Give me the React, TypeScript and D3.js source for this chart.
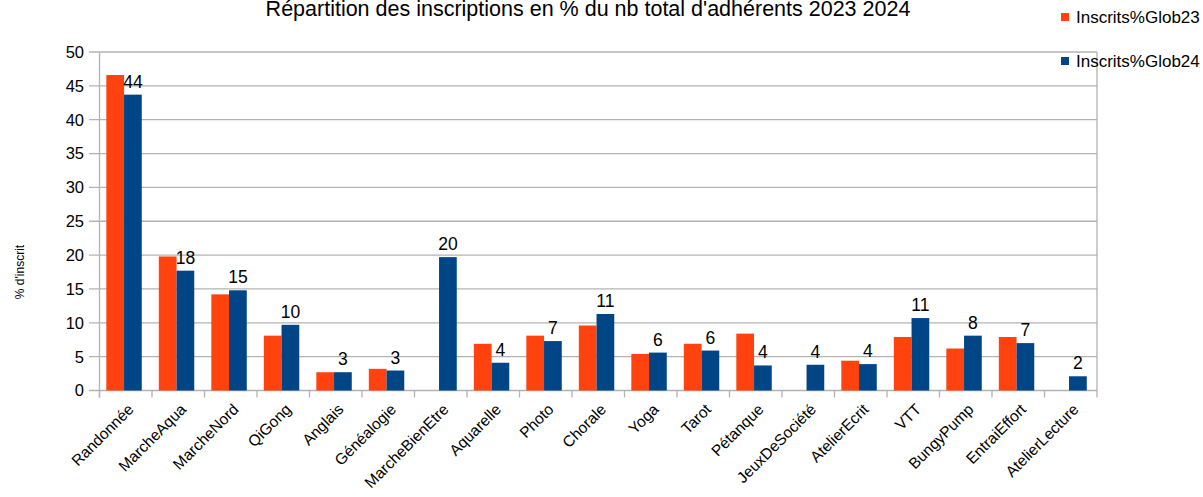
import React from 'react';
import * as d3 from 'd3';

const categories = [
  'Randonnée', 'MarcheAqua', 'MarcheNord', 'QiGong', 'Anglais', 'Généalogie',
  'MarcheBienEtre', 'Aquarelle', 'Photo', 'Chorale', 'Yoga', 'Tarot', 'Pétanque',
  'JeuxDeSociété', 'AtelierEcrit', 'VTT', 'BungyPump', 'EntraiEffort', 'AtelierLecture',
];
const glob23 = [46.6, 19.8, 14.2, 8.1, 2.7, 3.2, 0, 6.9, 8.1, 9.6, 5.4, 6.9, 8.4, 0, 4.4, 7.9, 6.2, 7.9, 0];
const glob24 = [43.7, 17.7, 14.8, 9.7, 2.7, 2.95, 19.7, 4.1, 7.3, 11.3, 5.6, 5.9, 3.7, 3.8, 3.9, 10.7, 8.1, 7.0, 2.1];
const seriesNames = ['Inscrits%Glob23', 'Inscrits%Glob24'];
const yTicks = [0, 5, 10, 15, 20, 25, 30, 35, 40, 45, 50];

const W = 1203;
const H = 497;
const colors = ['#ff420e', '#004586']; // LibreOffice default-ish
const font = '"Liberation Sans", Arial, sans-serif';

export default function App() {
  const left = 99.5, right = 1097, top = 52, bottom = 390.5;

  const x0 = d3.scaleBand<string>().domain(categories).range([left, right]).padding(0);
  const x1 = d3.scaleBand<number>()
    .domain([0, 1])
    .range([x0.bandwidth() * 0.13, x0.bandwidth() * 0.805])
    .padding(0);
  const y = d3.scaleLinear().domain([0, 50]).range([bottom, top]);
  const fmt = d3.format('.0f');
  const series = [glob23, glob24];

  return (
    <svg width={W} height={H} style={{ position: 'absolute', left: 0, top: 0, background: '#fff' }}
      fontFamily={font}>
      <text x={588} y={16} textAnchor="middle" fontSize={21.5} fill="#000">
        Répartition des inscriptions en % du nb total d'adhérents 2023 2024
      </text>

      {/* grid */}
      {yTicks.map(t => (
        <g key={t}>
          <line x1={89} x2={right} y1={y(t)} y2={y(t)} stroke="#b3b3b3" strokeWidth={1.3} />
          <text x={84} y={y(t)} dy="0.36em" textAnchor="end" fontSize={16.5} fill="#000">{t}</text>
        </g>
      ))}
      <line x1={left} x2={left} y1={top} y2={bottom + 7} stroke="#b3b3b3" strokeWidth={1.3} />
      <line x1={right} x2={right} y1={top} y2={bottom + 7} stroke="#b3b3b3" strokeWidth={1.3} />
      {categories.map(c => (
        <line key={c} x1={x0(c)!} x2={x0(c)!} y1={bottom} y2={bottom + 7} stroke="#b3b3b3" strokeWidth={1.3} />
      ))}

      {/* bars */}
      {series.map((vals, si) => (
        <g key={si} fill={colors[si]}>
          {vals.map((v, i) => v > 0 && (
            <rect key={i}
              x={x0(categories[i])! + x1(si)!}
              width={x1.bandwidth()}
              y={y(v)}
              height={y(0) - y(v)} />
          ))}
        </g>
      ))}

      {/* value labels, 2024 only */}
      {glob24.map((v, i) => (
        <text key={i}
          x={x0(categories[i])! + x1(1)! + x1.bandwidth() / 2}
          y={y(v) - 7}
          textAnchor="middle" fontSize={17.5} fill="#000">{fmt(v)}</text>
      ))}

      {/* x labels */}
      {categories.map(c => {
        const cx = x0(c)! + x0.bandwidth() / 2 + 5;
        return (
          <text key={c} transform={`translate(${cx},${bottom + 16}) rotate(-45)`}
            textAnchor="end" dy="0.35em" fontSize={15.5} fill="#000">{c}</text>
        );
      })}

      {/* y title */}
      <text transform={`translate(20,272) rotate(-90)`} textAnchor="middle" dy="0.35em" fontSize={12} fill="#000">
        % d'inscrit
      </text>

      {/* legend */}
      {seriesNames.map((n, i) => (
        <g key={n} transform={`translate(1061,${17 + i * 44})`}>
          <rect x={0} y={-4} width={8} height={8} fill={colors[i]} />
          <text x={15} y={0} dy="0.36em" fontSize={17} fill="#000">{n}</text>
        </g>
      ))}
    </svg>
  );
}
